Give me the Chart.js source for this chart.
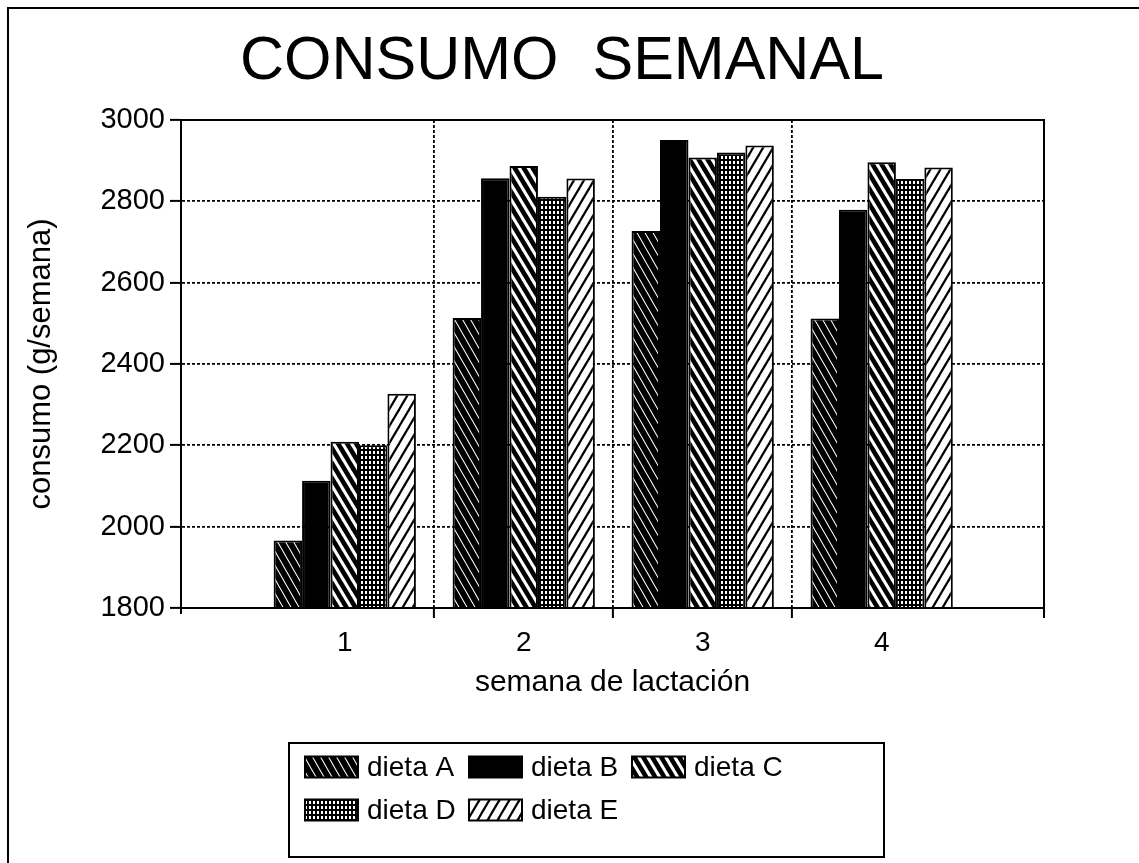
<!DOCTYPE html>
<html>
<head>
<meta charset="utf-8">
<script src="https://cdn.jsdelivr.net/npm/chart.js@4/dist/chart.umd.min.js"></script>
<style>
  html, body { margin: 0; padding: 0; background: #fff; }
  canvas { display: block; }
</style>
</head>
<body>
<canvas id="chart" width="1139" height="863"></canvas>
<script>
// Weekly intake per diet, weeks of lactation 1-4
const weeks = [1, 2, 3, 4];
const dietaA = [1966, 2513, 2727, 2512];
const dietaB = [2113, 2857, 2951, 2779];
const dietaC = [2209, 2887, 2908, 2896];
const dietaD = [2200, 2811, 2920, 2855];
const dietaE = [2327, 2856, 2937, 2883];
const yTickValues = [1800, 2000, 2200, 2400, 2600, 2800, 3000];
const seriesLabels = ['dieta A', 'dieta B', 'dieta C', 'dieta D', 'dieta E'];

const FONT = '"Liberation Sans", Arial, sans-serif';

// Fill patterns for the bars
function tile(w, h, paint) {
  const c = document.createElement('canvas');
  c.width = w; c.height = h;
  const g = c.getContext('2d');
  paint(g, w, h);
  return g.createPattern(c, 'repeat');
}
function hatch(bg, fg, w, h, lw, dir) {
  return tile(w, h, (g) => {
    g.fillStyle = bg; g.fillRect(0, 0, w, h);
    g.strokeStyle = fg; g.lineWidth = lw; g.lineCap = 'square';
    for (let k = -1; k <= 1; k++) {
      g.beginPath();
      if (dir === '/') { g.moveTo(k * w, h); g.lineTo(k * w + w, 0); }
      else { g.moveTo(k * w, 0); g.lineTo(k * w + w, h); }
      g.stroke();
    }
  });
}
const patA = hatch('#000', '#fff', 8, 14, 1.1, '\\');
const patB = '#000';
const patC = hatch('#fff', '#000', 9, 15, 4.6, '\\');
const patD = tile(4, 5, (g) => {
  g.fillStyle = '#000'; g.fillRect(0, 0, 4, 5);
  g.fillStyle = '#fff'; g.fillRect(1, 1, 2, 3);
});
const patE = hatch('#fff', '#000', 10, 17, 2.2, '/');

const fills = [patA, patB, patC, patD, patE];
const values = [dietaA, dietaB, dietaC, dietaD, dietaE];

const datasets = values.map((arr, i) => ({
  label: seriesLabels[i],
  data: weeks.map((w, j) => ({ x: w, y: arr[j] })),
  backgroundColor: fills[i],
  borderColor: '#000',
  borderWidth: 2,
  categoryPercentage: 0.795,
  barPercentage: 1.0
}));

// Page decorations: background, plot frame, title, legend box, outer border
const decorations = {
  id: 'decorations',
  beforeDraw(chart) {
    const ctx = chart.ctx;
    ctx.save();
    ctx.fillStyle = '#fff';
    ctx.fillRect(0, 0, chart.width, chart.height);
    ctx.restore();
  },
  afterDraw(chart) {
    const ctx = chart.ctx;
    const a = chart.chartArea;
    ctx.save();
    ctx.strokeStyle = '#000';
    ctx.lineWidth = 2;
    ctx.strokeRect(a.left, a.top, a.right - a.left, a.bottom - a.top);
    // short axis extensions at the lower corners
    ctx.beginPath();
    ctx.moveTo(a.left, a.bottom); ctx.lineTo(a.left, a.bottom + 6);
    ctx.moveTo(a.right, a.bottom); ctx.lineTo(a.right, a.bottom + 10);
    ctx.stroke();

    // title
    ctx.fillStyle = '#000';
    ctx.font = '61px ' + FONT;
    ctx.textAlign = 'center';
    ctx.textBaseline = 'alphabetic';
    ctx.fillText('CONSUMO  SEMANAL', 562, 79);

    // legend
    const box = { x: 289, y: 743, w: 595, h: 114 };
    ctx.lineWidth = 2;
    ctx.strokeRect(box.x, box.y, box.w, box.h);
    const cols = [305, 469, 632];
    const rows = [767, 810];
    const sw = 53, sh = 21;
    ctx.font = '28px ' + FONT;
    ctx.textAlign = 'left';
    ctx.textBaseline = 'middle';
    chart.data.datasets.forEach((ds, i) => {
      const cx = cols[i % 3];
      const cy = rows[Math.floor(i / 3)];
      ctx.fillStyle = ds.backgroundColor;
      ctx.fillRect(cx, cy - sh / 2, sw, sh);
      ctx.lineWidth = 2;
      ctx.strokeStyle = '#000';
      ctx.strokeRect(cx, cy - sh / 2, sw, sh);
      ctx.fillStyle = '#000';
      ctx.fillText(ds.label, cx + sw + 9, cy + 1);
    });

    // outer page border
    ctx.lineWidth = 2;
    ctx.strokeRect(8, 8, chart.width + 20, chart.height + 20);
    ctx.restore();
  }
};

const gridBetween = (ctx) => (ctx.index >= 1 && ctx.index <= 3) ? '#000' : 'rgba(0,0,0,0)';

new Chart(document.getElementById('chart'), {
  type: 'bar',
  data: { datasets },
  plugins: [decorations],
  options: {
    responsive: false,
    devicePixelRatio: 1,
    animation: false,
    layout: { padding: { left: 0, right: 95, top: 120, bottom: 158 } },
    plugins: {
      legend: { display: false },
      tooltip: { enabled: false },
      title: { display: false }
    },
    scales: {
      x: {
        type: 'linear',
        offset: false,
        min: 0.085,
        max: 4.907,
        afterBuildTicks: (s) => { s.ticks = weeks.map(v => ({ value: v })); },
        afterFit: (s) => { s.height = 97; },
        grid: {
          offset: true,
          color: gridBetween,
          tickColor: gridBetween,
          lineWidth: 1.8,
          tickLength: 10,
          tickWidth: 2
        },
        border: { display: true, color: '#000', width: 2, dash: [3, 2] },
        ticks: {
          color: '#000',
          font: { family: FONT, size: 28 },
          padding: 8,
          autoSkip: false,
          maxRotation: 0,
          callback: (v) => String(v)
        },
        title: {
          display: true,
          text: 'semana de lactación',
          color: '#000',
          font: { family: FONT, size: 30 },
          padding: { top: 4, bottom: 4 }
        }
      },
      y: {
        type: 'linear',
        min: 1800,
        max: 3000,
        afterBuildTicks: (s) => { s.ticks = yTickValues.map(v => ({ value: v })); },
        afterFit: (s) => { s.width = 181; },
        grid: {
          color: '#000',
          tickColor: '#000',
          lineWidth: 1.8,
          tickLength: 11,
          tickWidth: 2
        },
        border: { display: true, color: '#000', width: 2, dash: [3, 2] },
        ticks: {
          color: '#000',
          font: { family: FONT, size: 29 },
          padding: 5,
          callback: (v) => String(v)
        },
        title: {
          display: true,
          text: 'consumo (g/semana)',
          color: '#000',
          font: { family: FONT, size: 31 },
          padding: { top: 23, bottom: 4 }
        }
      }
    }
  }
});
</script>
</body>
</html>
